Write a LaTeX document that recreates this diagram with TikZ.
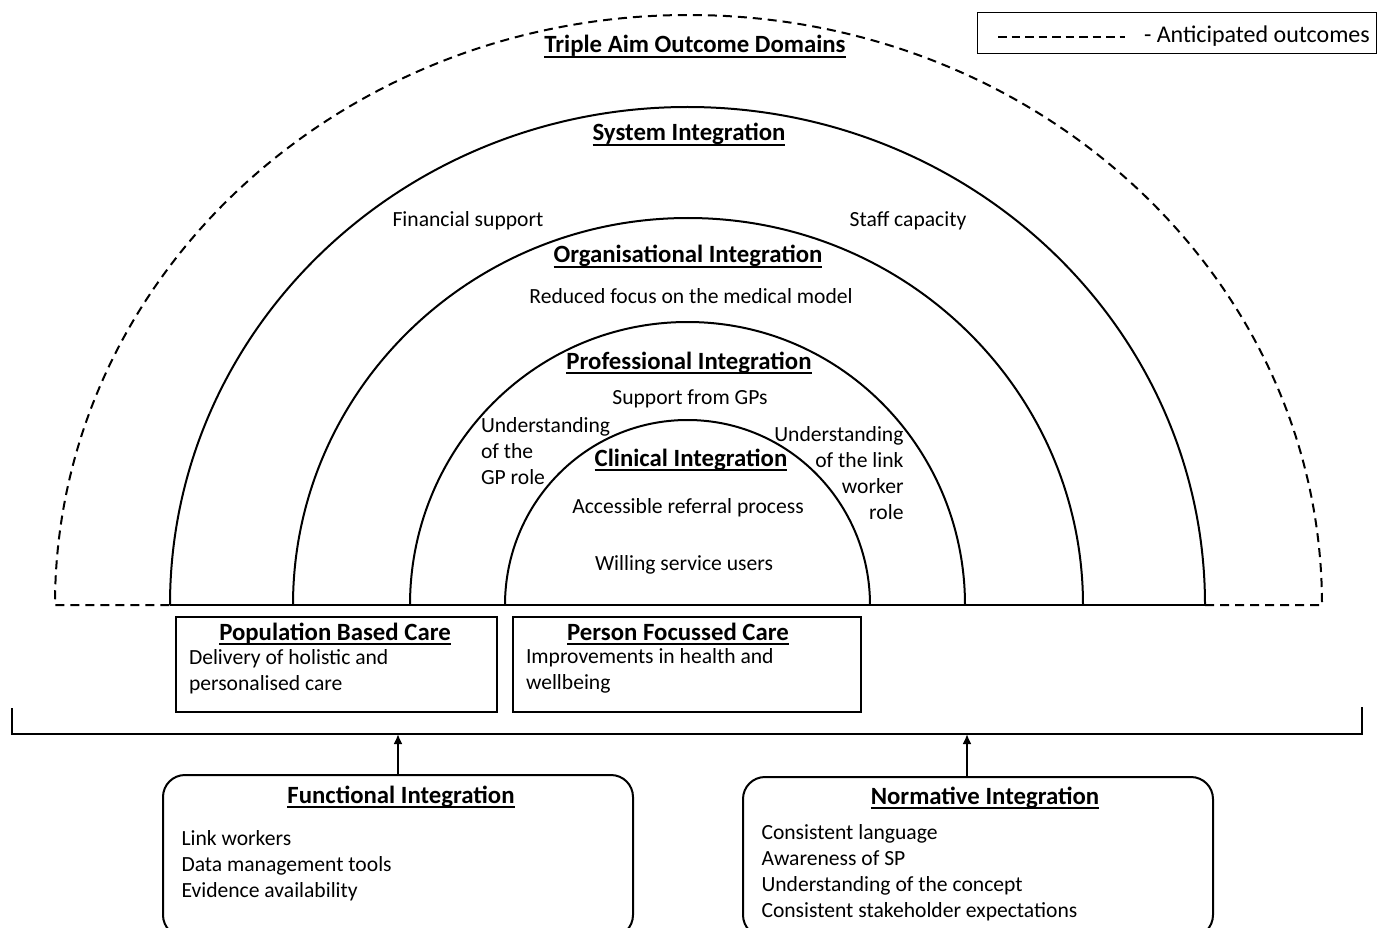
\documentclass[tikz,border=0pt]{standalone}
\usepackage{fontspec}
\setmainfont{Carlito}
\usetikzlibrary{arrows.meta}
\newcommand\myul[1]{\setbox0\hbox{#1}\rlap{\vrule height -2.8pt depth 4.8pt width \wd0}\box0}
\begin{document}
\begin{tikzpicture}[x=1pt,y=-1pt,
  every node/.style={inner sep=0pt,outer sep=0pt},
  body/.style={font=\fontsize{21.6}{26}\selectfont,anchor=base},
  ttl/.style={font=\fontsize{24.8}{29}\selectfont\bfseries,anchor=base},
  arcline/.style={line width=2pt},
  dashline/.style={line width=2pt,dash pattern=on 9pt off 6pt},
  boxsq/.style={draw,line width=2pt,anchor=north west},
  boxrd/.style={draw,line width=2pt,rounded corners=22pt,anchor=north west},
  uparrow/.style={line width=2pt,-{Latex[length=10pt,width=9pt]}}
]
\useasboundingbox (0,0) rectangle (1377,928);

% semicircles
\draw[arcline] (505,605) arc[start angle=180,end angle=0,x radius=182.5pt,y radius=185pt];
\draw[arcline] (410,605) arc[start angle=180,end angle=0,x radius=277.5pt,y radius=283pt];
\draw[arcline] (293,605) arc[start angle=180,end angle=0,x radius=395pt,y radius=387pt];
\draw[arcline] (170,605) arc[start angle=180,end angle=0,x radius=517.5pt,y radius=498pt];
\draw[arcline] (170,605) -- (1205,605);
\draw[dashline] (1205,605) -- (1322,605) arc[start angle=0,end angle=180,x radius=633.5pt,y radius=590pt] -- (170,605);

% legend
\node[draw,line width=1pt,minimum width=399pt,minimum height=41pt,anchor=north west] (leg) at (977,13) {};
\coordinate (legA) at (998,37);
\coordinate (legB) at (1125,37);
\draw[line width=2pt,dash pattern=on 8.5pt off 5pt] (legA) -- (legB);
\node[font=\fontsize{24}{29}\selectfont,anchor=base west] (legtxt) at (1144,42.5) {- Anticipated outcomes};

% titles and labels in arcs
\node[ttl] (triple) at (695,53) {\myul{Triple Aim Outcome Domains}};
\node[ttl] (sys) at (689,141) {\myul{System Integration}};
\node[body] (fin) at (468,227) {Financial support};
\node[body] (staff) at (908,227) {Staff capacity};
\node[ttl] (org) at (688,263) {\myul{Organisational Integration}};
\node[body] (reduced) at (691,303.5) {Reduced focus on the medical model};
\node[ttl] (prof) at (689,369.5) {\myul{Professional Integration}};
\node[body] (gps) at (690,404) {Support from GPs};
\node[body,anchor=base west,align=left] (gprole) at (481,484) {Understanding\\of the\\GP role};
\node[body,anchor=base east,align=right] (lwrole) at (903.5,519) {Understanding\\of the link\\worker\\role};
\node[ttl] (clin) at (691,466.5) {\myul{Clinical Integration}};
\node[body] (acc) at (688,513.5) {Accessible referral process};
\node[body] (will) at (684,570.5) {Willing service users};

% care boxes
\node[boxsq,minimum width=321pt,minimum height=95pt] (pop) at (176,617) {};
\node[ttl] (popt) at (335,640) {\myul{Population Based Care}};
\node[body,anchor=base west,align=left] (popb) at (189,690) {Delivery of holistic and\\personalised care};
\node[boxsq,minimum width=348pt,minimum height=95pt] (pers) at (513,617) {};
\node[ttl] (perst) at (678,640) {\myul{Person Focussed Care}};
\node[body,anchor=base west,align=left] (persb) at (526,689.5) {Improvements in health and\\wellbeing};

% bracket
\coordinate (bl) at (12,708);
\coordinate (bL) at (12,734);
\coordinate (bR) at (1362,734);
\coordinate (br) at (1362,707);
\draw[line width=2pt] (bl) -- (bL) -- (bR) -- (br);

% bottom boxes
\node[boxrd,minimum width=470pt,minimum height=162pt] (func) at (163,775) {};
\node[ttl] (funct) at (401,803) {\myul{Functional Integration}};
\node[body,anchor=base west,align=left] (funcb) at (181.5,897) {Link workers\\Data management tools\\Evidence availability};
\node[boxrd,minimum width=470pt,minimum height=160pt] (norm) at (743,777) {};
\node[ttl] (normt) at (985,804.5) {\myul{Normative Integration}};
\node[body,anchor=base west,align=left] (normb) at (761.5,917.5) {Consistent language\\Awareness of SP\\Understanding of the concept\\Consistent stakeholder expectations};

% arrows
\coordinate (fa) at (398,734);
\coordinate (na) at (967,734);
\draw[uparrow] (func.north -| fa) -- (fa);
\draw[uparrow] (norm.north -| na) -- (na);
\end{tikzpicture}
\end{document}
